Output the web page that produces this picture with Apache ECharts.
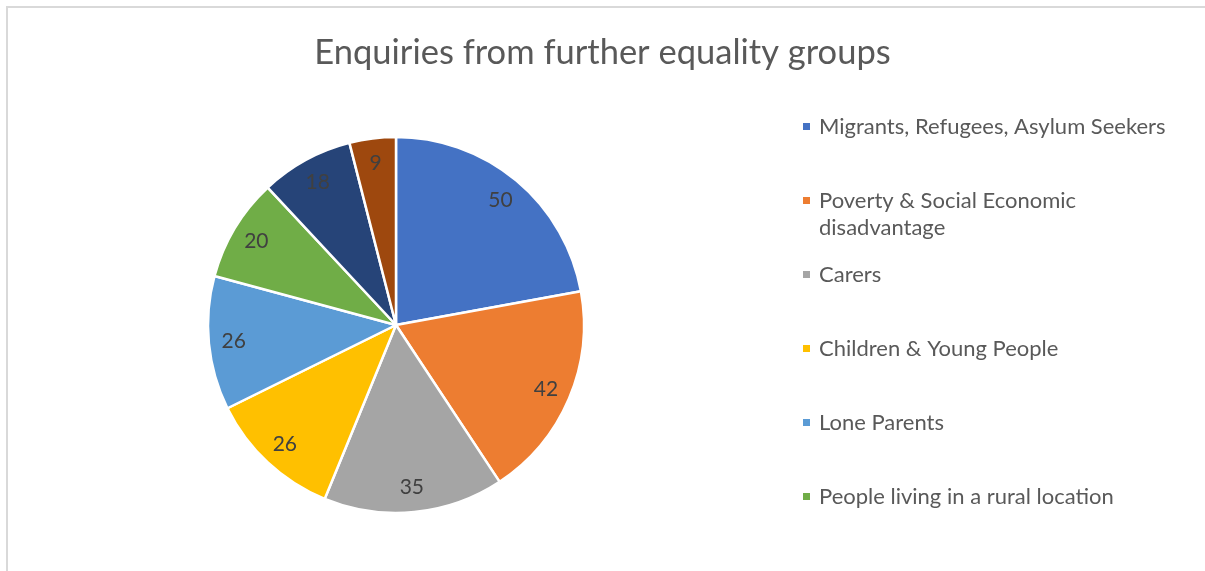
<!DOCTYPE html>
<html>
<head>
<meta charset="utf-8">
<script src="https://cdn.jsdelivr.net/npm/echarts@6/dist/echarts.min.js"></script>
<style>
  html, body { margin: 0; padding: 0; background: #fff; }
  #chart { position: absolute; left: 0; top: 0; width: 1205px; height: 571px; }
  #frame { position: absolute; left: 6px; top: 6px; right: 0; bottom: 0;
           border-top: 2px solid #d9d9d9; border-left: 2px solid #d9d9d9; pointer-events: none; }
</style>
</head>
<body>
<div id="chart"></div>
<div id="frame"></div>
<script>
// categories (last two are not visible in the reference legend)
var groups = [
    'Migrants, Refugees, Asylum Seekers',
    'Poverty & Social Economic disadvantage',
    'Carers',
    'Children & Young People',
    'Lone Parents',
    'People living in a rural location',
    'Other group 1',
    'Other group 2'
];
var enquiries = [50, 42, 35, 26, 26, 20, 18, 9];
var colors = ['#4472c4', '#ed7d31', '#a5a5a5', '#ffc000', '#5b9bd5', '#70ad47', '#264478', '#9e480e'];
// legend shows only the first six entries
var legendShown = groups.slice(0, 6);
var legendTops = [108, 182, 256, 330, 404, 478];

var pieData = [];
for (var i = 0; i < groups.length; i++) {
    pieData.push({ name: groups[i], value: enquiries[i], itemStyle: { color: colors[i] } });
}

var legends = [];
for (var j = 0; j < legendShown.length; j++) {
    var twoLine = legendShown[j].indexOf('Poverty') === 0;
    legends.push({
        orient: 'vertical',
        left: 796,
        // the wrapped entry gets an empty first line so its marker sits on the first text line
        top: twoLine ? legendTops[j] - 27 : legendTops[j],
        data: [legendShown[j]],
        icon: 'rect',
        itemWidth: 9,
        itemHeight: 9,
        itemGap: 0,
        selectedMode: false,
        formatter: function (name) {
            if (name.indexOf('Economic disadvantage') > -1) {
                return '\n' + name.replace('Economic disadvantage', 'Economic\ndisadvantage');
            }
            return name;
        },
        textStyle: {
            color: '#595959',
            fontFamily: 'Lato',
            fontSize: 22,
            lineHeight: 27,
            padding: [0, 0, 0, 3]
        }
    });
}

var chart = echarts.init(document.getElementById('chart'), null, { renderer: 'canvas' });
var option = {
    backgroundColor: '#fff',
    animation: false,
    title: {
        text: 'Enquiries from further equality groups',
        left: 'center',
        top: 30,
        textStyle: {
            color: '#595959',
            fontFamily: 'Lato',
            fontWeight: 'normal',
            fontSize: 34.5
        }
    },
    legend: legends,
    series: [
        {
            name: 'Enquiries',
            type: 'pie',
            center: [396, 325],
            radius: [0, 188],
            startAngle: 90,
            clockwise: true,
            data: pieData,
            itemStyle: { borderColor: '#fff', borderWidth: 2.5 },
            label: { show: false },
            labelLine: { show: false },
            emphasis: { disabled: true }
        },
        {
            // label carrier: places the value labels at ~85% of the radius
            name: 'labels',
            type: 'pie',
            center: [396, 325],
            radius: [140, 180],
            startAngle: 90,
            clockwise: true,
            silent: true,
            data: pieData.map(function (d) {
                return { name: d.name, value: d.value, itemStyle: { color: 'rgba(0,0,0,0)' } };
            }),
            label: {
                show: true,
                position: 'inside',
                formatter: '{c}',
                color: '#404040',
                fontFamily: 'Lato',
                fontSize: 21
            },
            labelLine: { show: false },
            emphasis: { disabled: true }
        }
    ]
};
chart.setOption(option);
</script>
</body>
</html>
